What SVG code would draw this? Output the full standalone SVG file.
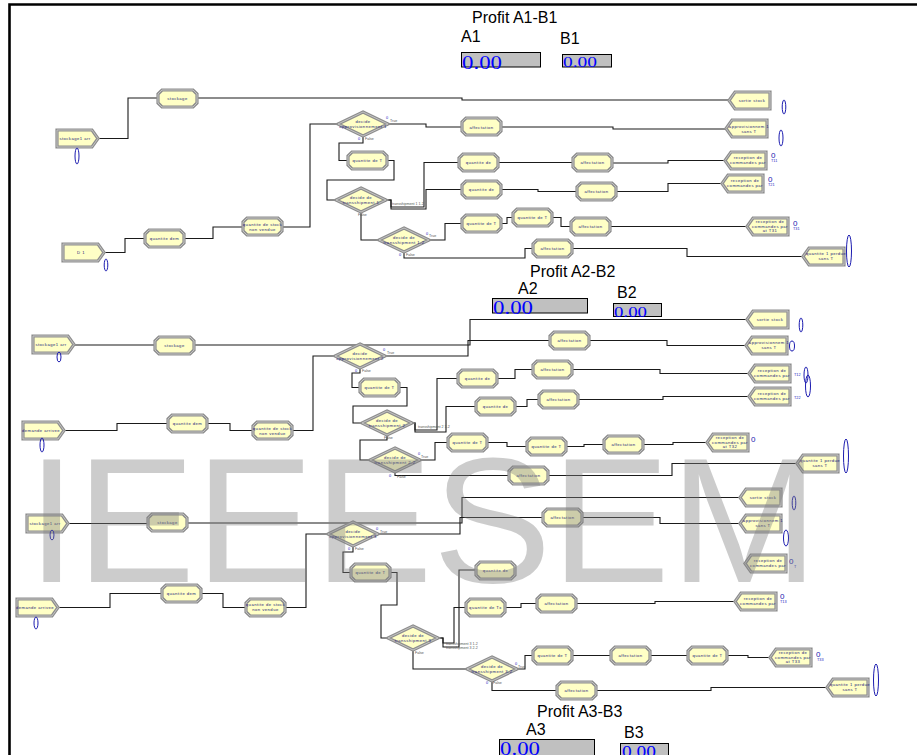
<svg xmlns="http://www.w3.org/2000/svg" xmlns:xlink="http://www.w3.org/1999/xlink" width="917" height="755" viewBox="0 0 917 755">
<style>
.bev{fill:#ffffc6;stroke:#8e8e8e;stroke-width:3.2;stroke-linejoin:miter}
.inn{fill:none;stroke:#c8c8c8;stroke-width:0.9}
.t{font-family:"Liberation Sans",Arial,sans-serif;font-size:4.2px;letter-spacing:0.45px;fill:#1e1e78;text-anchor:middle}
.lbl{font-family:"Liberation Sans",Arial,sans-serif;font-size:3.6px;fill:#555}
.num{font-family:"Liberation Sans",Arial,sans-serif;font-size:3.8px;fill:#2020c0}
.cnt{fill:none;stroke:#1c1cb0;stroke-width:1}
.cntT{font-family:"Liberation Sans",Arial,sans-serif;font-size:8px;fill:#2020b0}
.c{fill:none;stroke:#1a1a1a;stroke-width:1.1;marker-start:url(#ex)}
.title{font-family:"Liberation Sans",Arial,sans-serif;font-size:16px;fill:#000}
.disp{fill:#c0c0c0;stroke:#000;stroke-width:1}
.val{font-family:"Liberation Serif","Times New Roman",serif;fill:#0000ff}
.wm{font-family:"Liberation Sans",Arial,sans-serif;font-size:178px;fill:#808080;fill-opacity:0.4}
</style>
<defs>
<marker id="ex" viewBox="0 0 6 6" refX="0" refY="3" markerWidth="4" markerHeight="4" orient="auto-start-reverse" markerUnits="userSpaceOnUse"><path d="M0,0 L6,3 L0,6 z" fill="#000"/></marker>
<polygon id="procP" points="4,0 35,0 39,4 39,13 35,17 4,17 0,13 0,4"/>
<polygon id="crP" points="0,0 35,0 41,8.5 35,17 0,17"/>
<polygon id="dispP" points="6,0 41,0 41,17 6,17 0,8.5"/>
<polygon id="decP" points="25,0 50,12 25,24 0,12"/>
<g id="proc"><use xlink:href="#procP" class="bev"/><use xlink:href="#procP" class="inn"/></g>
<g id="cre"><use xlink:href="#crP" class="bev"/><use xlink:href="#crP" class="inn"/></g>
<g id="dis"><use xlink:href="#dispP" class="bev"/><use xlink:href="#dispP" class="inn"/></g>
<g id="dec"><use xlink:href="#decP" class="bev"/><use xlink:href="#decP" class="inn"/></g>
</defs>
<rect width="917" height="755" fill="#fff"/>
<path d="M9.5,755 V4.5 H917" fill="none" stroke="#000" stroke-width="2.6"/>

<!-- Titles and displays -->
<g id="profit1">
<text class="title" x="472" y="23">Profit A1-B1</text>
<text class="title" x="461" y="42">A1</text>
<text class="title" x="560" y="44">B1</text>
<rect class="disp" x="461.5" y="52.5" width="79" height="14.5"/>
<text class="val" x="462" y="68.5" font-size="18" textLength="40" lengthAdjust="spacingAndGlyphs">0.00</text>
<rect class="disp" x="562.5" y="54.5" width="49" height="12.5"/>
<text class="val" x="563" y="67" font-size="15" textLength="34" lengthAdjust="spacingAndGlyphs">0.00</text>
</g>
<g id="profit2">
<text class="title" x="530" y="277">Profit A2-B2</text>
<text class="title" x="518" y="294">A2</text>
<text class="title" x="617" y="298">B2</text>
<rect class="disp" x="492.5" y="298.5" width="95" height="14.5"/>
<text class="val" x="493" y="313.5" font-size="18" textLength="40" lengthAdjust="spacingAndGlyphs">0.00</text>
<rect class="disp" x="613.5" y="303.5" width="48" height="13"/>
<text class="val" x="614" y="316.5" font-size="15" textLength="33" lengthAdjust="spacingAndGlyphs">0.00</text>
</g>
<g id="profit3">
<text class="title" x="537" y="717">Profit A3-B3</text>
<text class="title" x="526" y="735">A3</text>
<text class="title" x="624" y="738">B3</text>
<rect class="disp" x="499.5" y="739.5" width="95" height="20"/>
<text class="val" x="500" y="755" font-size="18" textLength="40" lengthAdjust="spacingAndGlyphs">0.00</text>
<rect class="disp" x="620.5" y="743.5" width="48" height="16"/>
<text class="val" x="622" y="757" font-size="16" textLength="34" lengthAdjust="spacingAndGlyphs">0.00</text>
</g>

<!-- Connectors -->
<g id="connectors">
<path class="c" d="M98,138.5 H128 V98 H158"/>
<path class="c" d="M197,98 H462 V100 H729"/>
<path class="c" d="M282,227 H310 V124 H338"/>
<path class="c" d="M388,124 H426 V127 H462"/>
<path class="c" d="M501,127 H613 V129 H726"/>
<path class="c" d="M363,136 V143 H339 V160.5 H348"/>
<path class="c" d="M387,160.5 H394 V180 H327 V200 H336"/>
<path class="c" d="M386,200 H391 V207 H424 V162.5 H459"/>
<path class="c" d="M386,200 H391 V209 H426 V189.5 H462"/>
<path class="c" d="M498,162.5 H573"/>
<path class="c" d="M612,163 H668 V160.5 H725"/>
<path class="c" d="M501,189.5 H538 V191.5 H577"/>
<path class="c" d="M616,191.5 H668 V183.5 H722"/>
<path class="c" d="M361,212 V240 H379"/>
<path class="c" d="M429,240 H445 V223.5 H462"/>
<path class="c" d="M404,252 V258 H525 V248.5 H533"/>
<path class="c" d="M501,223.5 H507 V217.5 H513"/>
<path class="c" d="M552,217.5 H561 V226.5 H571"/>
<path class="c" d="M610,226.5 H747"/>
<path class="c" d="M572,248.5 H687 V256.5 H803"/>
<path class="c" d="M104,252.5 H125 V238.5 H145"/>
<path class="c" d="M184,238.5 H213 V227 H243"/>

<path class="c" d="M74,345 H155"/>
<path class="c" d="M194,345 H470 V319.5 H747"/>
<path class="c" d="M385,356 H468 V340.5 H550"/>
<path class="c" d="M589,340.5 H667 V345.5 H746"/>
<path class="c" d="M292,430.5 H313 V356 H335"/>
<path class="c" d="M360,368 V373 H352 V387.5 H360"/>
<path class="c" d="M399,387.5 H407 V406 H353 V423 H362"/>
<path class="c" d="M412,423 H415 V430 H437 V378.5 H458"/>
<path class="c" d="M412,423 H415 V432 H446 V406.5 H476"/>
<path class="c" d="M497,378.5 H515 V369.5 H533"/>
<path class="c" d="M572,369.5 H660 V373.5 H749"/>
<path class="c" d="M515,406.5 H527 V399.5 H539"/>
<path class="c" d="M578,399.5 H663 V396.5 H749"/>
<path class="c" d="M387,435 V440 H360 V460 H370"/>
<path class="c" d="M420,460 H435 V442.5 H448"/>
<path class="c" d="M395,472 V475.5 H509"/>
<path class="c" d="M487,442.5 H507 V446.5 H527"/>
<path class="c" d="M566,446.5 H584 V444.5 H604"/>
<path class="c" d="M643,444.5 H673 V442.5 H707"/>
<path class="c" d="M548,475.5 H672 V463.5 H797"/>
<path class="c" d="M64,430.5 H117 V423.5 H168"/>
<path class="c" d="M207,423.5 H230 V430.5 H253"/>

<path class="c" d="M68,523.5 H148"/>
<path class="c" d="M187,523 H462 V497.5 H740"/>
<path class="c" d="M378,534 H460 V517.5 H543"/>
<path class="c" d="M582,517.5 H660 V523.5 H740"/>
<path class="c" d="M285,607.5 H306 V534 H328"/>
<path class="c" d="M353,546 V552 H343 V572.5 H351"/>
<path class="c" d="M390,572.5 H397 V605 H381 V638 H388"/>
<path class="c" d="M438,638 H443 V643 H454 V607.5 H466"/>
<path class="c" d="M438,638 H443 V647 H459 V570 H476"/>
<path class="c" d="M505,607.5 H521 V603.5 H537"/>
<path class="c" d="M576,603.5 H655 V601.5 H735"/>
<path class="c" d="M413,650 V669 H467"/>
<path class="c" d="M517,669 H525 V655.5 H533"/>
<path class="c" d="M492,681 V690.5 H557"/>
<path class="c" d="M572,655.5 H611"/>
<path class="c" d="M650,655.5 H688"/>
<path class="c" d="M727,655.5 H748 V657.5 H770"/>
<path class="c" d="M596,690.5 H711 V687.5 H827"/>
<path class="c" d="M58,607.5 H110 V593.5 H162"/>
<path class="c" d="M201,593.5 H223 V607.5 H246"/>
</g>

<!-- Section 1 nodes -->
<g id="s1_arr"><use xlink:href="#cre" x="57" y="130"/><text class="t" x="75" y="140">stockage1 arr</text><ellipse class="cnt" cx="77" cy="156" rx="2" ry="8"/></g>
<g id="s1_stock"><use xlink:href="#proc" x="158" y="90"/><text class="t" x="177.5" y="100">stockage</text></g>
<g id="s1_sortie"><use xlink:href="#dis" x="729" y="92"/><text class="t" x="752" y="102">sortie stock</text><ellipse class="cnt" cx="784" cy="107" rx="1.8" ry="7"/></g>
<g id="s1_dec1"><use xlink:href="#dec" x="338" y="112"/><text class="t" x="363" y="122.5">decide</text><text class="t" x="363" y="127.5">approvisionnement 1</text><text class="num" x="386" y="119">0</text><text class="lbl" x="390" y="122">True</text><text class="num" x="358" y="140">0</text><text class="lbl" x="365" y="140">False</text></g>
<g id="s1_aff1"><use xlink:href="#proc" x="462" y="118"/><text class="t" x="481.5" y="128.5">affectation</text></g>
<g id="s1_appro"><use xlink:href="#dis" x="726" y="120"/><text class="t" x="749" y="127.5">approvisionnem 1</text><text class="t" x="749" y="132.5">sans T</text><ellipse class="cnt" cx="781" cy="138" rx="2" ry="8"/></g>
<g id="s1_qT"><use xlink:href="#proc" x="348" y="152"/><text class="t" x="367.5" y="162">quantite de T</text></g>
<g id="s1_dec2"><use xlink:href="#dec" x="336" y="188"/><text class="t" x="361" y="198.5">decide de</text><text class="t" x="361" y="203.5">transshipment 1</text><text class="lbl" x="392" y="205">transshipment 1 1-2</text><text class="lbl" x="358" y="216">False</text></g>
<g id="s1_qd1"><use xlink:href="#proc" x="459" y="154"/><text class="t" x="478.5" y="164">quantite de</text></g>
<g id="s1_aff2"><use xlink:href="#proc" x="573" y="154"/><text class="t" x="592.5" y="164">affectation</text></g>
<g id="s1_rec1"><use xlink:href="#dis" x="725" y="152"/><text class="t" x="748" y="159">reception de</text><text class="t" x="748" y="164">commandes par</text><text class="cntT" x="771" y="158">0</text><text class="num" x="771" y="162">T11</text></g>
<g id="s1_qd2"><use xlink:href="#proc" x="462" y="181"/><text class="t" x="481.5" y="191">quantite de</text></g>
<g id="s1_aff3"><use xlink:href="#proc" x="577" y="183"/><text class="t" x="596.5" y="193">affectation</text></g>
<g id="s1_rec2"><use xlink:href="#dis" x="722" y="175"/><text class="t" x="745" y="182">reception de</text><text class="t" x="745" y="187">commandes par</text><text class="cntT" x="768" y="182">0</text><text class="num" x="768" y="186">T21</text></g>
<g id="s1_dec3"><use xlink:href="#dec" x="379" y="228"/><text class="t" x="404" y="238.5">decide de</text><text class="t" x="404" y="243.5">transshipment 1-2</text><text class="num" x="426" y="235">0</text><text class="lbl" x="429" y="237">True</text><text class="num" x="399" y="256">0</text><text class="lbl" x="406" y="256">False</text></g>
<g id="s1_qT2"><use xlink:href="#proc" x="462" y="215"/><text class="t" x="481.5" y="225">quantite de T</text></g>
<g id="s1_qT3"><use xlink:href="#proc" x="513" y="209"/><text class="t" x="532.5" y="219">quantite de T</text></g>
<g id="s1_aff4"><use xlink:href="#proc" x="571" y="218"/><text class="t" x="590.5" y="228">affectation</text></g>
<g id="s1_rec3"><use xlink:href="#dis" x="747" y="218"/><text class="t" x="770" y="223">reception de</text><text class="t" x="770" y="227.5">commandes par</text><text class="t" x="770" y="232">at T31</text><text class="cntT" x="793" y="226">0</text><text class="num" x="793" y="230">T31</text></g>
<g id="s1_aff5"><use xlink:href="#proc" x="533" y="240"/><text class="t" x="552.5" y="250">affectation</text></g>
<g id="s1_perdue"><use xlink:href="#dis" x="803" y="248"/><text class="t" x="826" y="255">quantite 1 perdue</text><text class="t" x="826" y="260">sans T</text><ellipse class="cnt" cx="849" cy="251" rx="2.5" ry="16"/></g>
<g id="s1_D1"><use xlink:href="#cre" x="63" y="244"/><text class="t" x="81" y="254">D 1</text><ellipse class="cnt" cx="106" cy="265" rx="1.8" ry="6"/></g>
<g id="s1_qdem"><use xlink:href="#proc" x="145" y="230"/><text class="t" x="164.5" y="240">quantite dem</text></g>
<g id="s1_qsnv"><use xlink:href="#proc" x="243" y="218"/><text class="t" x="262.5" y="225.5">quantite de stock</text><text class="t" x="262.5" y="230.5">non vendue</text></g>

<!-- Section 2 nodes -->
<g id="s2_arr"><use xlink:href="#cre" x="33" y="336"/><text class="t" x="51" y="346">stockage1 arr</text><ellipse class="cnt" cx="59" cy="357" rx="2" ry="5"/></g>
<g id="s2_stock"><use xlink:href="#proc" x="155" y="337"/><text class="t" x="174.5" y="347">stockage</text></g>
<g id="s2_sortie"><use xlink:href="#dis" x="747" y="311"/><text class="t" x="770" y="321">sortie stock</text><ellipse class="cnt" cx="801" cy="325" rx="1.8" ry="7"/></g>
<g id="s2_appro"><use xlink:href="#dis" x="746" y="337"/><text class="t" x="769" y="344">approvisionnem 1</text><text class="t" x="769" y="349">sans T</text><ellipse class="cnt" cx="792" cy="346" rx="2.5" ry="5" stroke-width="1.4"/></g>
<g id="s2_aff1"><use xlink:href="#proc" x="550" y="332"/><text class="t" x="569.5" y="342">affectation</text></g>
<g id="s2_dec1"><use xlink:href="#dec" x="335" y="344"/><text class="t" x="360" y="354.5">decide</text><text class="t" x="360" y="359.5">approvisionnement 2</text><text class="num" x="383" y="351">0</text><text class="lbl" x="387" y="354">True</text><text class="num" x="355" y="372">0</text><text class="lbl" x="362" y="372">False</text></g>
<g id="s2_qT"><use xlink:href="#proc" x="360" y="379"/><text class="t" x="379.5" y="389">quantite de T</text></g>
<g id="s2_dec2"><use xlink:href="#dec" x="362" y="411"/><text class="t" x="387" y="421.5">decide de</text><text class="t" x="387" y="426.5">transshipment 2</text><text class="lbl" x="418" y="428">transshipment 2 1-2</text><text class="lbl" x="384" y="439">False</text></g>
<g id="s2_qd1"><use xlink:href="#proc" x="458" y="370"/><text class="t" x="477.5" y="380">quantite de</text></g>
<g id="s2_aff2"><use xlink:href="#proc" x="533" y="361"/><text class="t" x="552.5" y="371">affectation</text></g>
<g id="s2_rec1"><use xlink:href="#dis" x="749" y="365"/><text class="t" x="772" y="372">reception de</text><text class="t" x="772" y="377">commandes par</text><text class="num" x="794" y="376">T12</text><ellipse class="cnt" cx="806" cy="375" rx="2" ry="8"/><ellipse class="cnt" cx="808" cy="386" rx="2.5" ry="11"/></g>
<g id="s2_qd2"><use xlink:href="#proc" x="476" y="398"/><text class="t" x="495.5" y="408">quantite de</text></g>
<g id="s2_aff3"><use xlink:href="#proc" x="539" y="391"/><text class="t" x="558.5" y="401">affectation</text></g>
<g id="s2_rec2"><use xlink:href="#dis" x="749" y="388"/><text class="t" x="772" y="395">reception de</text><text class="t" x="772" y="400">commandes par</text><text class="num" x="794" y="399">T22</text></g>
<g id="s2_dec3"><use xlink:href="#dec" x="370" y="448"/><text class="t" x="395" y="458.5">decide de</text><text class="t" x="395" y="463.5">transshipment 2-2</text><text class="num" x="418" y="455">0</text><text class="lbl" x="421" y="458">True</text><text class="num" x="389" y="477">0</text><text class="lbl" x="397" y="478">False</text></g>
<g id="s2_qT2"><use xlink:href="#proc" x="448" y="434"/><text class="t" x="467.5" y="444">quantite de T</text></g>
<g id="s2_qT3"><use xlink:href="#proc" x="527" y="438"/><text class="t" x="546.5" y="448">quantite de T</text></g>
<g id="s2_aff4"><use xlink:href="#proc" x="604" y="436"/><text class="t" x="623.5" y="446">affectation</text></g>
<g id="s2_rec3"><use xlink:href="#dis" x="707" y="434"/><text class="t" x="730" y="439">reception de</text><text class="t" x="730" y="443.5">commandes par</text><text class="t" x="730" y="448">at T32</text><text class="cntT" x="751" y="442">0</text></g>
<g id="s2_aff5"><use xlink:href="#proc" x="509" y="467"/><text class="t" x="528.5" y="477">affectation</text></g>
<g id="s2_perdue"><use xlink:href="#dis" x="797" y="455"/><text class="t" x="820" y="462">quantite 1 perdue</text><text class="t" x="820" y="467">sans T</text><ellipse class="cnt" cx="846" cy="456" rx="2.5" ry="17"/></g>
<g id="s2_dem"><use xlink:href="#cre" x="23" y="422"/><text class="t" x="41" y="432">demande arrivee</text><ellipse class="cnt" cx="42" cy="445" rx="2" ry="7"/></g>
<g id="s2_qdem"><use xlink:href="#proc" x="168" y="415"/><text class="t" x="187.5" y="425">quantite dem</text></g>
<g id="s2_qsnv"><use xlink:href="#proc" x="253" y="422"/><text class="t" x="272.5" y="429.5">quantite de stock</text><text class="t" x="272.5" y="434.5">non vendue</text></g>

<!-- Section 3 nodes -->
<g id="s3_arr"><use xlink:href="#cre" x="27" y="515"/><text class="t" x="45" y="525">stockage1 arr</text><ellipse class="cnt" cx="52" cy="535" rx="2" ry="5"/></g>
<g id="s3_stock"><use xlink:href="#proc" x="148" y="514"/><text class="t" x="167.5" y="524">stockage</text></g>
<g id="s3_sortie"><use xlink:href="#dis" x="740" y="489"/><text class="t" x="763" y="499">sortie stock</text><ellipse class="cnt" cx="794" cy="503" rx="1.8" ry="7"/></g>
<g id="s3_dec1"><use xlink:href="#dec" x="328" y="522"/><text class="t" x="353" y="532.5">decide</text><text class="t" x="353" y="537.5">approvisionnement 3</text><text class="num" x="376" y="530">0</text><text class="lbl" x="380" y="533">True</text><text class="num" x="348" y="550">0</text><text class="lbl" x="355" y="550">False</text></g>
<g id="s3_aff1"><use xlink:href="#proc" x="543" y="509"/><text class="t" x="562.5" y="519">affectation</text></g>
<g id="s3_appro"><use xlink:href="#dis" x="740" y="515"/><text class="t" x="763" y="522">approvisionnem 1</text><text class="t" x="763" y="527">sans T</text><ellipse class="cnt" cx="786" cy="538" rx="2.5" ry="8" stroke-width="1.3"/></g>
<g id="s3_rec0"><use xlink:href="#dis" x="745" y="555"/><text class="t" x="768" y="562">reception de</text><text class="t" x="768" y="567">commandes par</text><text class="cntT" x="789" y="564">0</text><text class="num" x="794" y="568">T</text></g>
<g id="s3_qT"><use xlink:href="#proc" x="351" y="564"/><text class="t" x="370.5" y="574">quantite de T</text></g>
<g id="s3_dec2"><use xlink:href="#dec" x="388" y="626"/><text class="t" x="413" y="636.5">decide de</text><text class="t" x="413" y="641.5">transshipment 3</text><text class="lbl" x="446" y="645">transshipment 3 1-2</text><text class="lbl" x="446" y="649">transshipment 3 2-2</text><text class="lbl" x="415" y="654">False</text></g>
<g id="s3_qd"><use xlink:href="#proc" x="476" y="562"/><text class="t" x="495.5" y="572">quantite de</text></g>
<g id="s3_qTx"><use xlink:href="#proc" x="466" y="599"/><text class="t" x="485.5" y="609">quantite de Tx</text></g>
<g id="s3_aff2"><use xlink:href="#proc" x="537" y="595"/><text class="t" x="556.5" y="605">affectation</text></g>
<g id="s3_rec1"><use xlink:href="#dis" x="735" y="593"/><text class="t" x="758" y="600">reception de</text><text class="t" x="758" y="605">commandes par</text><text class="cntT" x="780" y="599">0</text><text class="num" x="780" y="603">T13</text></g>
<g id="s3_dec3"><use xlink:href="#dec" x="467" y="657"/><text class="t" x="492" y="667.5">decide de</text><text class="t" x="492" y="672.5">transshipment 3-2</text><text class="num" x="515" y="665">0</text><text class="lbl" x="518" y="668">True</text><text class="num" x="486" y="684">0</text><text class="lbl" x="493" y="684">False</text></g>
<g id="s3_qT2"><use xlink:href="#proc" x="533" y="647"/><text class="t" x="552.5" y="657">quantite de T</text></g>
<g id="s3_aff3"><use xlink:href="#proc" x="611" y="647"/><text class="t" x="630.5" y="657">affectation</text></g>
<g id="s3_qT3"><use xlink:href="#proc" x="688" y="647"/><text class="t" x="707.5" y="657">quantite de T</text></g>
<g id="s3_rec2"><use xlink:href="#dis" x="770" y="649"/><text class="t" x="793" y="654">reception de</text><text class="t" x="793" y="658.5">commandes par</text><text class="t" x="793" y="663">at T33</text><text class="cntT" x="816" y="657">0</text><text class="num" x="817" y="661">T33</text></g>
<g id="s3_aff4"><use xlink:href="#proc" x="557" y="682"/><text class="t" x="576.5" y="692">affectation</text></g>
<g id="s3_perdue"><use xlink:href="#dis" x="827" y="679"/><text class="t" x="850" y="686">quantite 1 perdue</text><text class="t" x="850" y="691">sans T</text><ellipse class="cnt" cx="876" cy="680" rx="2.5" ry="16"/></g>
<g id="s3_dem"><use xlink:href="#cre" x="17" y="599"/><text class="t" x="35" y="609">demande arrivee</text><ellipse class="cnt" cx="36" cy="623" rx="2" ry="6"/></g>
<g id="s3_qdem"><use xlink:href="#proc" x="162" y="585"/><text class="t" x="181.5" y="595">quantite dem</text></g>
<g id="s3_qsnv"><use xlink:href="#proc" x="246" y="599"/><text class="t" x="265.5" y="606">quantite de stock</text><text class="t" x="265.5" y="611">non vendue</text></g>

<!-- watermark -->
<text class="wm" x="27" y="582">IEEESEM</text>
</svg>
